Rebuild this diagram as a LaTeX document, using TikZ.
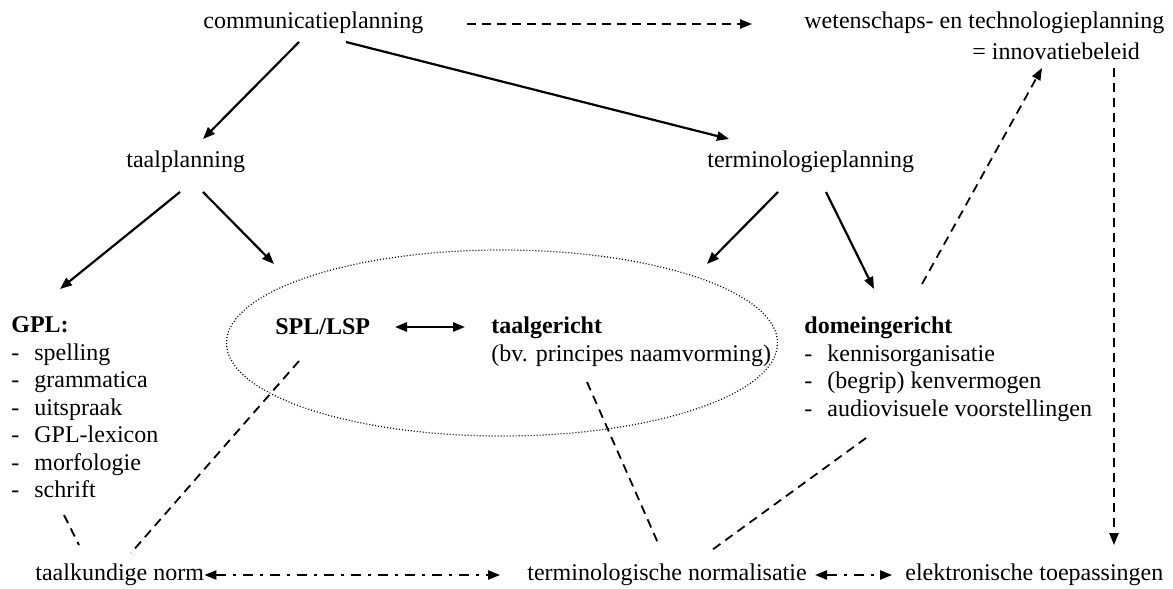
\documentclass[tikz,border=0pt]{standalone}
\usepackage{fontspec}
\setmainfont{Liberation Serif}
\usetikzlibrary{arrows.meta,shapes.geometric}
\newcommand{\streep}[1]{\makebox[11.5pt][l]{-}#1}
\begin{document}
\begin{tikzpicture}[x=0.5pt, y=-0.5pt, >={Triangle[length=6pt,width=4.6pt]},
    every node/.style={inner sep=0pt, font=\fontsize{12}{13.75}\selectfont},
    lijst/.style={align=left, anchor=north west},
    pijl/.style={->, line width=1.1pt},
    streep/.style={dash pattern=on 4.5pt off 3pt, line width=0.9pt},
    streepstip/.style={<->, dash pattern=on 5pt off 3.5pt on 1.5pt off 3.5pt, line width=0.9pt}]
\useasboundingbox (0,0) rectangle (1173,589);
\node[ellipse, draw, dash pattern=on 0.5pt off 1pt, line width=0.6pt, minimum width=275.5pt, minimum height=93pt] (ovaal) at (502,343) {};
\node[anchor=west] (comm) at (203,23) {communicatieplanning};
\node[anchor=west] (wet) at (804,23) {wetenschaps- en technologieplanning};
\node[anchor=west] (inno) at (972,51) {= innovatiebeleid};
\node[anchor=west] (taal) at (126,162) {taalplanning};
\node[anchor=west] (term) at (707,162) {terminologieplanning};
\node[lijst] (gpl) at (11,316.5) {\textbf{GPL:}\\ \streep{spelling}\\ \streep{grammatica}\\ \streep{uitspraak}\\ \streep{GPL-lexicon}\\ \streep{morfologie}\\ \streep{schrift}};
\node[anchor=west] (spl) at (275,327) {\textbf{SPL/LSP}};
\node[lijst] (taalger) at (491,316.5) {\textbf{taalgericht}\\ (bv. principes naamvorming)};
\node[lijst] (dom) at (804,316.5) {\textbf{domeingericht}\\ \streep{kennisorganisatie}\\ \streep{(begrip) kenvermogen}\\ \streep{audiovisuele voorstellingen}};
\node[anchor=west] (taalk) at (35,575) {taalkundige norm};
\node[anchor=west] (termnorm) at (527,575) {terminologische normalisatie};
\node[anchor=west] (elek) at (905,575) {elektronische toepassingen};

\draw[pijl] ([shift={(96,19)}]comm.west) -- ([shift={(77,-23)}]taal.west);
\draw[pijl] ([shift={(143,19)}]comm.west) -- ([shift={(22,-23)}]term.west);
\draw[streep,->] ([shift={(264,1)}]comm.west) -- ([shift={(-52,1)}]wet.west);
\draw[pijl] ([shift={(54,30)}]taal.west) -- ([shift={(49,-27.5)}]gpl.north west);
\draw[pijl] ([shift={(77,30)}]taal.west) -- ([shift={(-228,-79)}]ovaal.center);
\draw[pijl] ([shift={(71,30)}]term.west) -- ([shift={(205,-79)}]ovaal.center);
\draw[pijl] ([shift={(119,30)}]term.west) -- ([shift={(70,-27.5)}]dom.north west);
\draw[line width=1.1pt, <->] ([shift={(120,0)}]spl.west) -- ([shift={(-26,10.5)}]taalger.north west);
\draw[streep,->] ([shift={(118,-32.5)}]dom.north west) -- ([shift={(70,17)}]inno.west);
\draw[streep,->] ([shift={(142,17)}]inno.west) -- ([shift={(209,-30)}]elek.west);
\draw[streep] ([shift={(53,198.5)}]gpl.north west) -- ([shift={(44,-30)}]taalk.west);
\draw[streep] ([shift={(24,34)}]spl.west) -- ([shift={(96,-22)}]taalk.west);
\draw[streep] ([shift={(96,65.5)}]taalger.north west) -- ([shift={(131,-32)}]termnorm.west);
\draw[streep] ([shift={(62,121.5)}]dom.north west) -- ([shift={(185,-25)}]termnorm.west);
\draw[streepstip] (taalk.east) -- ([shift={(-27,0)}]termnorm.west);
\draw[streepstip] ([shift={(8,0)}]termnorm.east) -- ([shift={(-13,0)}]elek.west);
\end{tikzpicture}
\end{document}
